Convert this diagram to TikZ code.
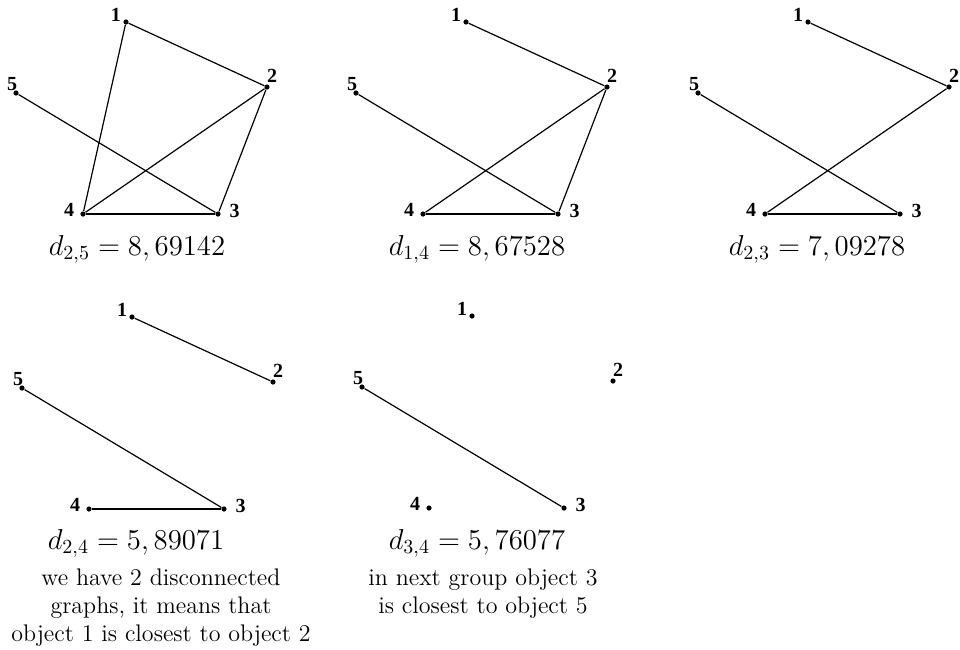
\documentclass[tikz,border=0pt]{standalone}
\usepackage{fontspec}
\newfontfamily\lblfont{Liberation Serif}
\usetikzlibrary{positioning}

% five objects of one panel, placed round object 5
\newcommand{\placeobjects}[2]{%
  \begin{scope}[shift={#2}]
    \node[obj, label={[lbl, xshift=-5pt,   yshift=3.5pt]center:1}] (#1-1) at (110,-71) {};
    \node[obj, label={[lbl, xshift=2.5pt,  yshift=5.5pt]center:2}]  (#1-2) at (251,-6)  {};
    \node[obj, label={[lbl, xshift=8.25pt, yshift=1.75pt]center:3}] (#1-3) at (202,121) {};
    \node[obj, label={[lbl, xshift=-7pt,   yshift=2pt]center:4}]    (#1-4) at (67,121)  {};
    \node[obj, label={[lbl, xshift=-2pt,   yshift=4.25pt]center:5}] (#1-5) at (0,0)     {};
  \end{scope}}

\begin{document}
\begin{tikzpicture}[
    x=0.5pt, y=-0.5pt,
    obj/.style={circle, fill=black, inner sep=0pt, minimum size=2.6pt},
    lbl/.style={font=\lblfont\bfseries\fontsize{10}{12}\selectfont, inner sep=0pt},
    link/.style={line width=0.6pt},
    dist/.style={font=\Large, anchor=base, inner sep=0pt},
    note/.style={font=\large, align=center, anchor=north, inner sep=0pt}
  ]
    \useasboundingbox (0,0) rectangle (960,649);

    \placeobjects{a}{(16,93)}
    \placeobjects{b}{(356,93)}
    \placeobjects{c}{(698,93)}
    \placeobjects{d}{(22,388)}
    \placeobjects{e}{(362,387)}

    % step 1
    \draw[link] (a-1) -- (a-2);
    \draw[link] (a-1) -- (a-4);
    \draw[link] (a-2) -- (a-4);
    \draw[link] (a-2) -- (a-3);
    \draw[link] (a-5) -- (a-3);
    \draw[link] (a-4) -- (a-3);
    \node[dist] (capa) at (137,255) {$d_{2,5}=8,69142$};

    % step 2
    \draw[link] (b-1) -- (b-2);
    \draw[link] (b-5) -- (b-3);
    \draw[link] (b-2) -- (b-4);
    \draw[link] (b-2) -- (b-3);
    \draw[link] (b-4) -- (b-3);
    \node[dist] (capb) at (477,255) {$d_{1,4}=8,67528$};

    % step 3
    \draw[link] (c-1) -- (c-2);
    \draw[link] (c-5) -- (c-3);
    \draw[link] (c-2) -- (c-4);
    \draw[link] (c-4) -- (c-3);
    \node[dist] (capc) at (817,255) {$d_{2,3}=7,09278$};

    % step 4
    \draw[link] (d-1) -- (d-2);
    \draw[link] (d-5) -- (d-3);
    \draw[link] (d-4) -- (d-3);
    \node[dist] (capd) at (136,549) {$d_{2,4}=5,89071$};
    \node[note] (noted) at (161,568) {we have 2 disconnected\\graphs, it means that\\object 1 is closest to object 2};

    % step 5
    \draw[link] (e-5) -- (e-3);
    \node[dist] (cape) at (477,549) {$d_{3,4}=5,76077$};
    \node[note] (notee) at (483,568) {in next group object 3\\is closest to object 5};
  \end{tikzpicture}
\end{document}
